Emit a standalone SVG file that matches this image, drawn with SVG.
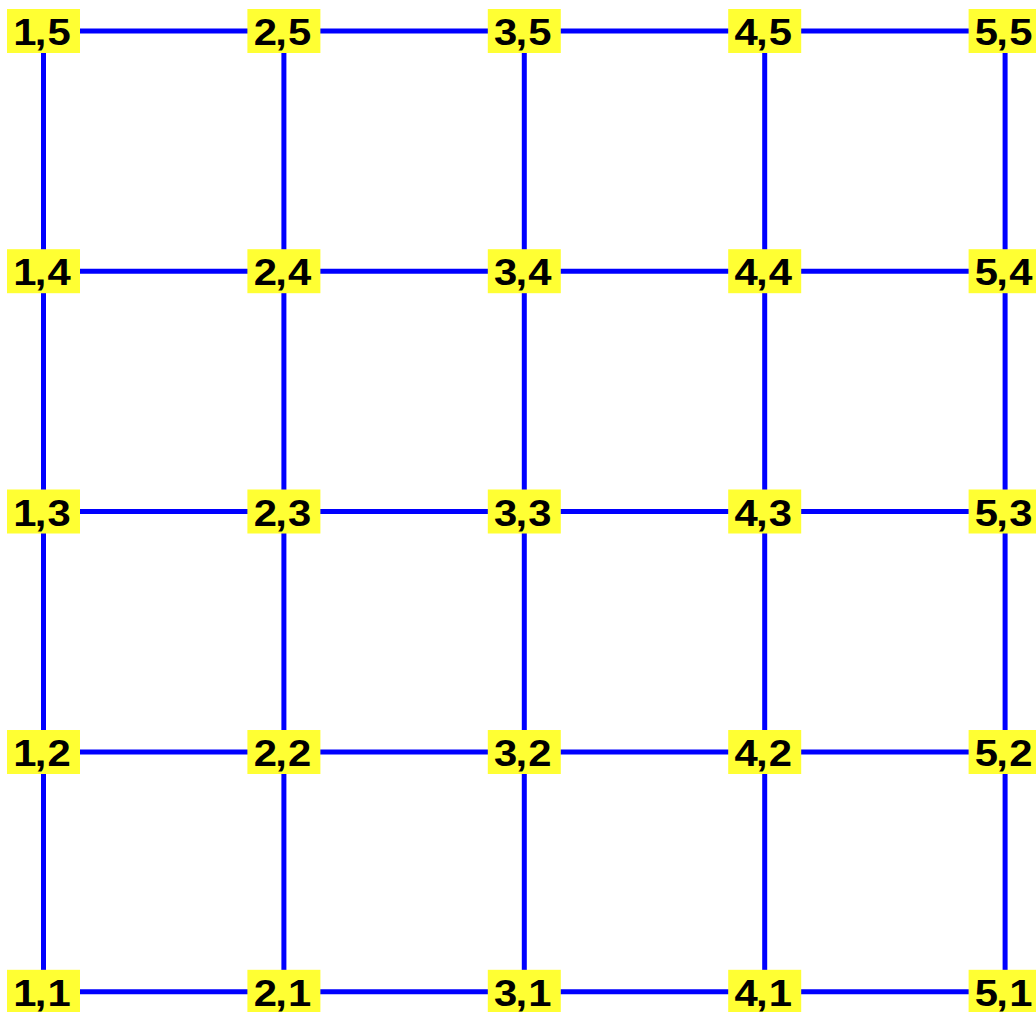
<svg xmlns="http://www.w3.org/2000/svg" width="1036" height="1012" viewBox="0 0 1036 1012">
<style>
.e{stroke:#0000ff;stroke-width:5;fill:none}
.b{fill:#ffff33}
.t{font-family:"Liberation Sans",Arial,sans-serif;font-weight:bold;font-size:37px;fill:#000;text-anchor:middle}
</style>
<defs>
<rect id="box" class="b" x="-36.5" y="-22" width="73" height="44"/>
</defs>
<rect width="1036" height="1012" fill="#fff"/>
<g id="connectors" class="e">
<line x1="43.5" y1="31" x2="283.9" y2="31"/><line x1="283.9" y1="31" x2="524.3" y2="31"/><line x1="524.3" y1="31" x2="764.7" y2="31"/><line x1="764.7" y1="31" x2="1005.1" y2="31"/>
<line x1="43.5" y1="271.2" x2="283.9" y2="271.2"/><line x1="283.9" y1="271.2" x2="524.3" y2="271.2"/><line x1="524.3" y1="271.2" x2="764.7" y2="271.2"/><line x1="764.7" y1="271.2" x2="1005.1" y2="271.2"/>
<line x1="43.5" y1="511.5" x2="283.9" y2="511.5"/><line x1="283.9" y1="511.5" x2="524.3" y2="511.5"/><line x1="524.3" y1="511.5" x2="764.7" y2="511.5"/><line x1="764.7" y1="511.5" x2="1005.1" y2="511.5"/>
<line x1="43.5" y1="752" x2="283.9" y2="752"/><line x1="283.9" y1="752" x2="524.3" y2="752"/><line x1="524.3" y1="752" x2="764.7" y2="752"/><line x1="764.7" y1="752" x2="1005.1" y2="752"/>
<line x1="43.5" y1="991.8" x2="283.9" y2="991.8"/><line x1="283.9" y1="991.8" x2="524.3" y2="991.8"/><line x1="524.3" y1="991.8" x2="764.7" y2="991.8"/><line x1="764.7" y1="991.8" x2="1005.1" y2="991.8"/>
<line x1="43.5" y1="31" x2="43.5" y2="271.2"/><line x1="43.5" y1="271.2" x2="43.5" y2="511.5"/><line x1="43.5" y1="511.5" x2="43.5" y2="752"/><line x1="43.5" y1="752" x2="43.5" y2="991.8"/>
<line x1="283.9" y1="31" x2="283.9" y2="271.2"/><line x1="283.9" y1="271.2" x2="283.9" y2="511.5"/><line x1="283.9" y1="511.5" x2="283.9" y2="752"/><line x1="283.9" y1="752" x2="283.9" y2="991.8"/>
<line x1="524.3" y1="31" x2="524.3" y2="271.2"/><line x1="524.3" y1="271.2" x2="524.3" y2="511.5"/><line x1="524.3" y1="511.5" x2="524.3" y2="752"/><line x1="524.3" y1="752" x2="524.3" y2="991.8"/>
<line x1="764.7" y1="31" x2="764.7" y2="271.2"/><line x1="764.7" y1="271.2" x2="764.7" y2="511.5"/><line x1="764.7" y1="511.5" x2="764.7" y2="752"/><line x1="764.7" y1="752" x2="764.7" y2="991.8"/>
<line x1="1005.1" y1="31" x2="1005.1" y2="271.2"/><line x1="1005.1" y1="271.2" x2="1005.1" y2="511.5"/><line x1="1005.1" y1="511.5" x2="1005.1" y2="752"/><line x1="1005.1" y1="752" x2="1005.1" y2="991.8"/>
</g>
<g id="n1-5" transform="translate(43.5,31)"><use href="#box"/><text class="t" transform="scale(1.13,1)" x="-16.5 -2.6 13.9" y="14">1,5</text></g>
<g id="n2-5" transform="translate(283.9,31)"><use href="#box"/><text class="t" transform="scale(1.13,1)" x="-16.5 -2.6 13.9" y="14">2,5</text></g>
<g id="n3-5" transform="translate(524.3,31)"><use href="#box"/><text class="t" transform="scale(1.13,1)" x="-16.5 -2.6 13.9" y="14">3,5</text></g>
<g id="n4-5" transform="translate(764.7,31)"><use href="#box"/><text class="t" transform="scale(1.13,1)" x="-16.5 -2.6 13.9" y="14">4,5</text></g>
<g id="n5-5" transform="translate(1005.1,31)"><use href="#box"/><text class="t" transform="scale(1.13,1)" x="-16.5 -2.6 13.9" y="14">5,5</text></g>
<g id="n1-4" transform="translate(43.5,271.2)"><use href="#box"/><text class="t" transform="scale(1.13,1)" x="-16.5 -2.6 13.9" y="14">1,4</text></g>
<g id="n2-4" transform="translate(283.9,271.2)"><use href="#box"/><text class="t" transform="scale(1.13,1)" x="-16.5 -2.6 13.9" y="14">2,4</text></g>
<g id="n3-4" transform="translate(524.3,271.2)"><use href="#box"/><text class="t" transform="scale(1.13,1)" x="-16.5 -2.6 13.9" y="14">3,4</text></g>
<g id="n4-4" transform="translate(764.7,271.2)"><use href="#box"/><text class="t" transform="scale(1.13,1)" x="-16.5 -2.6 13.9" y="14">4,4</text></g>
<g id="n5-4" transform="translate(1005.1,271.2)"><use href="#box"/><text class="t" transform="scale(1.13,1)" x="-16.5 -2.6 13.9" y="14">5,4</text></g>
<g id="n1-3" transform="translate(43.5,511.5)"><use href="#box"/><text class="t" transform="scale(1.13,1)" x="-16.5 -2.6 13.9" y="14">1,3</text></g>
<g id="n2-3" transform="translate(283.9,511.5)"><use href="#box"/><text class="t" transform="scale(1.13,1)" x="-16.5 -2.6 13.9" y="14">2,3</text></g>
<g id="n3-3" transform="translate(524.3,511.5)"><use href="#box"/><text class="t" transform="scale(1.13,1)" x="-16.5 -2.6 13.9" y="14">3,3</text></g>
<g id="n4-3" transform="translate(764.7,511.5)"><use href="#box"/><text class="t" transform="scale(1.13,1)" x="-16.5 -2.6 13.9" y="14">4,3</text></g>
<g id="n5-3" transform="translate(1005.1,511.5)"><use href="#box"/><text class="t" transform="scale(1.13,1)" x="-16.5 -2.6 13.9" y="14">5,3</text></g>
<g id="n1-2" transform="translate(43.5,752)"><use href="#box"/><text class="t" transform="scale(1.13,1)" x="-16.5 -2.6 13.9" y="14">1,2</text></g>
<g id="n2-2" transform="translate(283.9,752)"><use href="#box"/><text class="t" transform="scale(1.13,1)" x="-16.5 -2.6 13.9" y="14">2,2</text></g>
<g id="n3-2" transform="translate(524.3,752)"><use href="#box"/><text class="t" transform="scale(1.13,1)" x="-16.5 -2.6 13.9" y="14">3,2</text></g>
<g id="n4-2" transform="translate(764.7,752)"><use href="#box"/><text class="t" transform="scale(1.13,1)" x="-16.5 -2.6 13.9" y="14">4,2</text></g>
<g id="n5-2" transform="translate(1005.1,752)"><use href="#box"/><text class="t" transform="scale(1.13,1)" x="-16.5 -2.6 13.9" y="14">5,2</text></g>
<g id="n1-1" transform="translate(43.5,991.8)"><use href="#box"/><text class="t" transform="scale(1.13,1)" x="-16.5 -2.6 13.9" y="14">1,1</text></g>
<g id="n2-1" transform="translate(283.9,991.8)"><use href="#box"/><text class="t" transform="scale(1.13,1)" x="-16.5 -2.6 13.9" y="14">2,1</text></g>
<g id="n3-1" transform="translate(524.3,991.8)"><use href="#box"/><text class="t" transform="scale(1.13,1)" x="-16.5 -2.6 13.9" y="14">3,1</text></g>
<g id="n4-1" transform="translate(764.7,991.8)"><use href="#box"/><text class="t" transform="scale(1.13,1)" x="-16.5 -2.6 13.9" y="14">4,1</text></g>
<g id="n5-1" transform="translate(1005.1,991.8)"><use href="#box"/><text class="t" transform="scale(1.13,1)" x="-16.5 -2.6 13.9" y="14">5,1</text></g>
</svg>
